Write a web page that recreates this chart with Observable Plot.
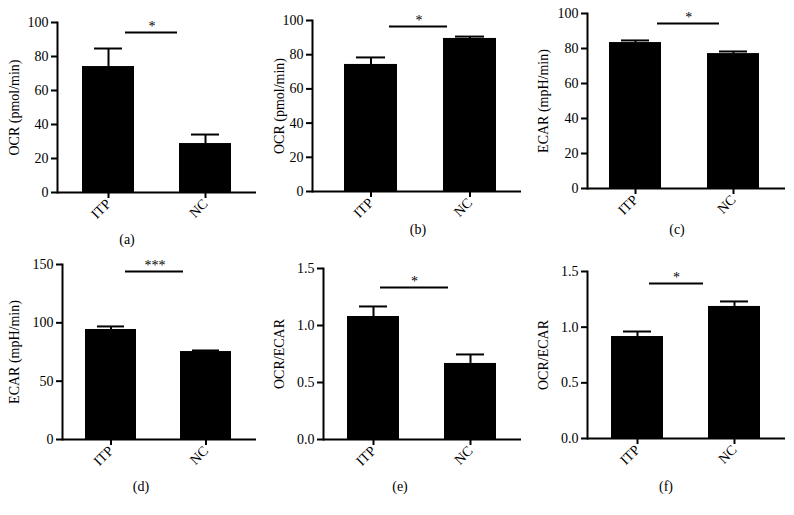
<!DOCTYPE html>
<html>
<head>
<meta charset="utf-8">
<script src="https://cdn.jsdelivr.net/npm/d3@7"></script>
<script src="https://cdn.jsdelivr.net/npm/@observablehq/plot@0.6"></script>
<style>
  body { margin: 0; background: #fff; }
  #root { position: relative; width: 794px; height: 515px; font-family: "Liberation Serif", "Times New Roman", serif; color: #000; }
  .panel { position: absolute; width: 265px; height: 258px; }
  .panel svg { position: absolute; left: 0; top: 0; overflow: visible; }
  .cap { position: absolute; font-size: 14px; transform: translate(-50%, -50%); white-space: nowrap; }
</style>
</head>
<body>
<div id="root"></div>
<script>
// ---- data ----
const groups = ["ITP", "NC"];

const ocrA = [74.1, 28.8];
const ocrAErr = [10.6, 5.3];

const ocrB = [74.3, 89.5];
const ocrBErr = [4.1, 1.1];

const ecarC = [83.4, 77.1];
const ecarCErr = [1.2, 1.2];

const ecarD = [94.3, 75.4];
const ecarDErr = [2.6, 0.9];

const ratioE = [1.079, 0.667];
const ratioEErr = [0.088, 0.079];

const ratioF = [0.916, 1.186];
const ratioFErr = [0.045, 0.045];

const ticks100 = [0, 20, 40, 60, 80, 100];
const ticks150 = [0, 50, 100, 150];
const ticks15 = [0, 0.5, 1.0, 1.5];

const yLabels = ["OCR (pmol/min)", "OCR (pmol/min)", "ECAR (mpH/min)", "ECAR (mpH/min)", "OCR/ECAR", "OCR/ECAR"];
const captions = ["(a)", "(b)", "(c)", "(d)", "(e)", "(f)"];
const sigMarks = ["*", "*", "*", "***", "*", "*"];
const sigLevels = [94.1, 96.5, 94.3, 144, 1.333, 1.393];

// ---- layout (styles / pixel geometry) ----
const panels = [
  {values: ocrA, errs: ocrAErr, ticks: ticks100, fmt: null, ymax: 100, cell: [0, 0],   ml: 57, mt: 22, y0: 192, barStart: 81, sigL: 43, sigR: 54, cap: [127, 240]},
  {values: ocrB, errs: ocrBErr, ticks: ticks100, fmt: null, ymax: 100, cell: [265, 0], ml: 47, mt: 20, y0: 191, barStart: 78, sigL: 45, sigR: 49, cap: [153, 230]},
  {values: ecarC, errs: ecarCErr, ticks: ticks100, fmt: null, ymax: 100, cell: [529, 0], ml: 58, mt: 13, y0: 188, barStart: 80, sigL: 48, sigR: 40, cap: [148, 230]},
  {values: ecarD, errs: ecarDErr, ticks: ticks150, fmt: null, ymax: 150, cell: [0, 257], ml: 62, mt: 7, y0: 182, barStart: 84, sigL: 40, sigR: 48, cap: [141, 230]},
  {values: ratioE, errs: ratioEErr, ticks: ticks15, fmt: ".1f", ymax: 1.5, cell: [265, 257], ml: 58, mt: 11, y0: 182, barStart: 82, sigL: 33, sigR: 48, cap: [135, 230]},
  {values: ratioF, errs: ratioFErr, ticks: ticks15, fmt: ".1f", ymax: 1.5, cell: [529, 257], ml: 58, mt: 14, y0: 181, barStart: 82, sigL: 38, sigR: 57, cap: [137, 230]}
];

const W = 265, MR = 9, MB = 36, PI = 0.467, XR = 25;
const root = document.getElementById("root");

panels.forEach((p, k) => {
  const data = groups.map((g, i) => ({group: g, value: p.values[i], hi: p.values[i] + p.errs[i]}));
  const range = (W - MR - XR) - p.barStart;
  const step = range / (2 - PI);
  const bw = step * (1 - PI);
  const starDx = (p.sigL + range - p.sigR) / 2 - bw / 2;

  const plot = Plot.plot({
    width: W,
    height: p.y0 + MB,
    marginLeft: p.ml,
    marginRight: MR,
    marginTop: p.mt,
    marginBottom: MB,
    style: {fontFamily: '"Liberation Serif", "Times New Roman", serif', fontSize: "14px", color: "#000", background: "transparent"},
    x: {domain: groups, paddingInner: PI, paddingOuter: 0, insetLeft: p.barStart - p.ml, insetRight: XR},
    y: {domain: [0, p.ymax]},
    marks: [
      Plot.ruleX(data, {x: "group", y1: "value", y2: "hi", stroke: "#000", strokeWidth: 2}),
      Plot.barY(data, {x: "group", y: "value", fill: "#000"}),
      Plot.tickY(data, {x: "group", y: "hi", stroke: "#000", strokeWidth: 2, insetLeft: 12, insetRight: 12}),
      Plot.ruleY([sigLevels[k]], {y: d => d, x1: () => groups[0], x2: () => groups[1], stroke: "#000", strokeWidth: 2, insetLeft: p.sigL, insetRight: p.sigR}),
      Plot.text([sigMarks[k]], {x: () => groups[0], y: () => sigLevels[k], text: d => d, dx: starDx, dy: -6, fontSize: 14, fill: "#000"}),
      Plot.frame({anchor: "left", stroke: "#000", strokeWidth: 2}),
      Plot.ruleY([0], {stroke: "#000", strokeWidth: 2}),
      Plot.axisY({ticks: p.ticks, tickFormat: p.fmt ?? undefined, tickSize: 6, tickPadding: 3, strokeWidth: 2, fontSize: 14,
        label: yLabels[k], labelAnchor: "center", labelArrow: "none", labelOffset: p.ml - 9}),
      Plot.axisX({tickSize: 6, tickPadding: 3, tickRotate: -45, strokeWidth: 2, fontSize: 14, label: null})
    ]
  });

  const div = document.createElement("div");
  div.className = "panel";
  div.style.left = p.cell[0] + "px";
  div.style.top = p.cell[1] + "px";
  div.appendChild(plot);
  const cap = document.createElement("div");
  cap.className = "cap";
  cap.textContent = captions[k];
  cap.style.left = p.cap[0] + "px";
  cap.style.top = p.cap[1] + "px";
  div.appendChild(cap);
  root.appendChild(div);
});
</script>
</body>
</html>
